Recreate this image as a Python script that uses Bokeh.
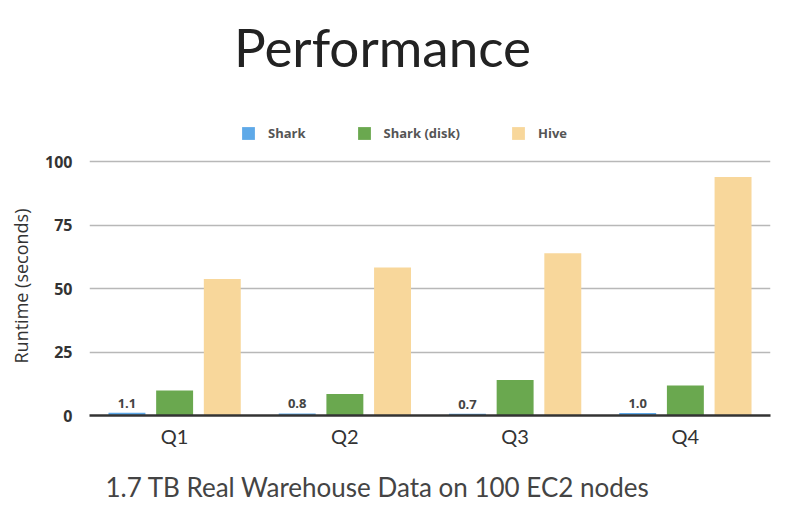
from bokeh.plotting import figure
from bokeh.models import (ColumnDataSource, FactorRange, Range1d, FixedTicker, Legend,
                          LegendItem, Label, LabelSet, Title)
from bokeh.core.properties import value
from bokeh.transform import dodge
from bokeh.embed import file_html
from bokeh.resources import INLINE

queries = ["Q1", "Q2", "Q3", "Q4"]
shark = [1.1, 0.8, 0.7, 1.0]
shark_disk = [9.8, 8.5, 14.0, 11.8]
hive = [53.7, 58.3, 63.9, 93.9]
shark_text = ["1.1", "0.8", "0.7", "1.0"]
y_ticks = [0, 25, 50, 75, 100]

src = ColumnDataSource(dict(q=queries, shark=shark, disk=shark_disk, hive=hive,
                            stxt=shark_text))

# frame spans the top of the canvas so the title and legend sit inside it
p = figure(width=787, height=522, x_range=FactorRange(*queries, range_padding=0),
           y_range=Range1d(0, 163.4), output_backend="svg", toolbar_location=None,
           min_border_left=89, min_border_right=17, min_border_top=0,
           min_border_bottom=107)
p.outline_line_color = None
p.background_fill_color = "white"
p.border_fill_color = "white"

w = 0.217
r1 = p.vbar(x=dodge("q", -0.28, range=p.x_range), top="shark", width=w, source=src,
            fill_color="#5ea9e8", line_color=None)
r2 = p.vbar(x=dodge("q", 0.0, range=p.x_range), top="disk", width=w, source=src,
            fill_color="#6aa84f", line_color=None)
r3 = p.vbar(x=dodge("q", 0.28, range=p.x_range), top="hive", width=w, source=src,
            fill_color="#f8d79b", line_color=None)

labels = LabelSet(x=dodge("q", -0.28, range=p.x_range), y="shark", text="stxt",
                  source=src, text_align="center", text_baseline="bottom", y_offset=5,
                  text_font_size="13px", text_font_style="bold", text_color="#444444",
                  text_font=value("Open Sans"))
p.add_layout(labels)

# axes
p.yaxis.ticker = FixedTicker(ticks=y_ticks)
p.yaxis.axis_line_color = None
p.yaxis.major_tick_line_color = None
p.yaxis.minor_tick_line_color = None
p.yaxis.major_tick_out = 0
p.yaxis.minor_tick_out = 0
p.yaxis.major_label_standoff = 17
p.yaxis.major_label_text_font = "Open Sans"
p.yaxis.major_label_text_font_size = "16px"
p.yaxis.major_label_text_font_style = "bold"
p.yaxis.major_label_text_color = "#333333"

p.add_layout(Title(text="Runtime (seconds)", align="left", offset=52,
                   vertical_align="top", text_font="Open Sans", text_font_size="18px",
                   text_font_style="normal", text_color="#333333", standoff=16), "left")

p.xaxis.axis_line_color = "#333333"
p.xaxis.axis_line_width = 2.5
p.xaxis.major_tick_line_color = None
p.xaxis.minor_tick_line_color = None
p.xaxis.major_tick_out = 0
p.xaxis.major_label_standoff = 8
p.xaxis.major_label_text_font = "Lato"
p.xaxis.major_label_text_font_size = "20px"
p.xaxis.major_label_text_color = "#333333"

p.xgrid.grid_line_color = None
p.ygrid.grid_line_color = "#b8b8b8"
p.ygrid.grid_line_width = 1.5

legend = Legend(items=[LegendItem(label="Shark", renderers=[r1]),
                       LegendItem(label="Shark (disk)", renderers=[r2]),
                       LegendItem(label="Hive", renderers=[r3])],
                orientation="horizontal", location=(151, 273), padding=0, margin=0,
                spacing=50, glyph_width=16, glyph_height=16, label_standoff=12,
                border_line_color=None, background_fill_alpha=0,
                label_text_font="Open Sans", label_text_font_size="13px",
                label_text_font_style="bold", label_text_color="#555555")
p.add_layout(legend)

p.add_layout(Label(x=293, y=369, x_units="screen", y_units="screen", text="Performance",
                   text_align="center", text_baseline="alphabetic", text_font="Lato",
                   text_font_size="53px", text_color="#222222"))

p.add_layout(Title(text="1.7 TB Real Warehouse Data on 100 EC2 nodes", align="left",
                   offset=16, standoff=37, text_font="Lato", text_font_size="26px",
                   text_font_style="normal", text_color="#444444"), "below")

open("out.html", "w").write(file_html(p, INLINE))
